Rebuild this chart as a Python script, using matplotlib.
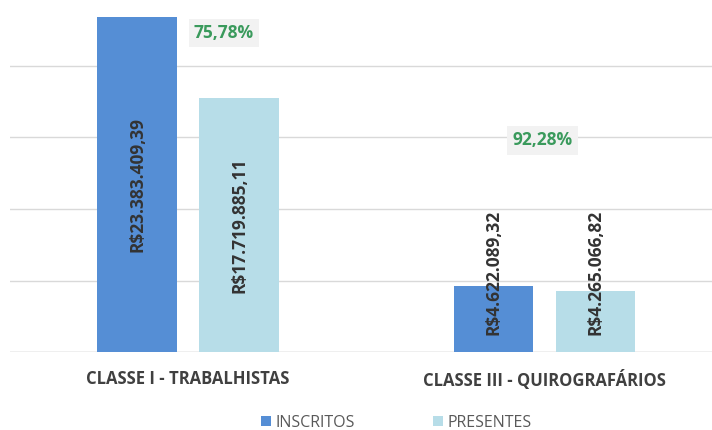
import numpy as np
import matplotlib.pyplot as plt

plt.rcParams['font.family'] = ['Open Sans', 'DejaVu Sans']

categorias = ['CLASSE I - TRABALHISTAS', 'CLASSE III - QUIROGRAFÁRIOS']
inscritos = [23383409.39, 4622089.32]
presentes = [17719885.11, 4265066.82]
rotulos_inscritos = ['R$23.383.409,39', 'R$4.622.089,32']
rotulos_presentes = ['R$17.719.885,11', 'R$4.265.066,82']
percentuais = ['75,78%', '92,28%']

cor_insc = '#558ed5'
cor_pres = '#b7dde8'

fig = plt.figure(figsize=(7.12, 4.30), dpi=100)
ax = fig.add_axes([0.014, 0.181, 0.986, 0.819])

x = np.arange(len(categorias))
w = 0.224
off = 0.143
b1 = ax.bar(x - off, inscritos, w, color=cor_insc, label='INSCRITOS', zorder=2)
b2 = ax.bar(x + off, presentes, w, color=cor_pres, label='PRESENTES', zorder=2)

ax.set_ylim(0, 24.6e6)
ax.set_xlim(-0.5, 1.47)
ax.set_yticks(np.arange(0, 25e6, 5e6))
ax.yaxis.grid(True, color='#d9d9d9', linewidth=1, zorder=0)
ax.set_yticklabels([])
ax.tick_params(left=False, bottom=False)
for s in ax.spines.values():
    s.set_visible(False)
ax.axhline(0, color='#d0d0d0', linewidth=1, zorder=1)

ax.set_xticks(x)
ax.set_xticklabels(categorias, fontsize=12, fontweight='bold', color='#404040')
ax.tick_params(axis='x', pad=9)

# rótulos de valor
for i in range(len(categorias)):
    for xi, v, t in [(x[i] - off, inscritos[i], rotulos_inscritos[i]),
                     (x[i] + off, presentes[i], rotulos_presentes[i])]:
        if i == 0:
            ax.text(xi, v / 2, t, rotation=90, ha='center', va='center',
                    fontsize=12.5, fontweight='bold', color='#333333', zorder=3)
        else:
            ax.text(xi, 1.2e6, t, rotation=90, ha='center', va='bottom',
                    fontsize=12.5, fontweight='bold', color='#333333', zorder=3)

# percentuais
ax.text(0.1, 22.3e6, percentuais[0], ha='center', va='center', fontsize=12.5,
        fontweight='bold', color='#3a9a5c',
        bbox=dict(boxstyle='square,pad=0.3', fc='#f2f2f2', ec='none'))
ax.text(0.995, 14.8e6, percentuais[1], ha='center', va='center', fontsize=12.5,
        fontweight='bold', color='#3a9a5c',
        bbox=dict(boxstyle='square,pad=0.3', fc='#f2f2f2', ec='none'))

fig.legend(loc='lower center', bbox_to_anchor=(0.557, -0.035), ncol=2, frameon=False,
           fontsize=11.5, handlelength=0.6, handleheight=0.6, handletextpad=0.3,
           columnspacing=4.9, labelcolor='#595959')

fig.savefig('out.png', dpi=100)
